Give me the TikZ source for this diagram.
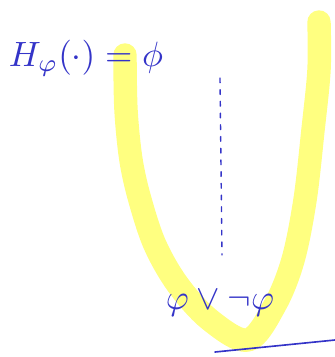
\documentclass[tikz,border=0pt]{standalone}
\usepackage{tikz}
\usetikzlibrary{calc}

\definecolor{ink}{RGB}{52,52,200}
\definecolor{marker}{RGB}{255,255,128}

\begin{document}
\begin{tikzpicture}[x=0.03cm,y=-0.03cm]
  \useasboundingbox (0,0) rectangle (335,357);
  \tikzset{pen/.style={ink,line width=1.4pt,line cap=round},
           label/.style={ink,scale=3,inner sep=0pt}}
  % highlighter stroke
  \draw[marker,line width=20pt,line cap=round,line join=round]
    plot[smooth,tension=0.55] coordinates {(125,55) (126,110) (131,160) (140,200)
      (155,245) (178,285) (210,320) (248,340) (275,305) (293,260) (305,200)
      (313,130) (319,70) (319,22)};
  \node[label] (H) at (86,58) {$H_\varphi(\cdot)=\phi$};
  \node[label] (T) at (220,303) {$\varphi\vee\neg\varphi$};
  \coordinate (A) at (220,78); \coordinate (B) at (222,255);
  \coordinate (L) at (215,352); \coordinate (R) at (335,340);
  \draw[pen,line width=1.2pt,dash pattern=on 4pt off 6pt] (A)--(B);
  \draw[pen] (L)--(R);
\end{tikzpicture}
\end{document}
